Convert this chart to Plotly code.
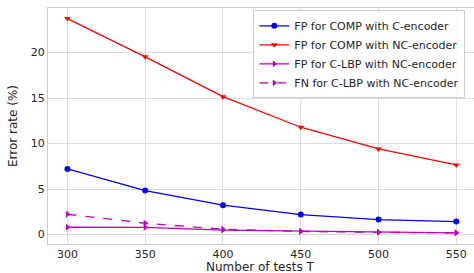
import plotly.graph_objects as go

tests = [300, 350, 400, 450, 500, 550]
fp_comp_c = [7.22, 4.84, 3.23, 2.2, 1.65, 1.43]
fp_comp_nc = [23.74, 19.53, 15.16, 11.8, 9.42, 7.66]
fp_clbp_nc = [0.81, 0.8, 0.5, 0.38, 0.27, 0.19]
fn_clbp_nc = [2.24, 1.25, 0.6, 0.35, 0.25, 0.2]

x_ticks = [300, 350, 400, 450, 500, 550]
y_ticks = [0, 5, 10, 15, 20]

series = [
    ("FP for COMP with C-encoder", fp_comp_c, "#0000ff", "circle", "solid"),
    ("FP for COMP with NC-encoder", fp_comp_nc, "#ff0000", "triangle-down", "solid"),
    ("FP for C-LBP with NC-encoder", fp_clbp_nc, "#bf00bf", "triangle-right", "solid"),
    ("FN for C-LBP with NC-encoder", fn_clbp_nc, "#bf00bf", "triangle-right", "dash"),
]

fig = go.Figure()
for name, vals, col, sym, dash in series:
    fig.add_trace(go.Scatter(
        x=tests, y=vals, name=name, mode="lines+markers",
        line=dict(color=col, width=1.3, dash=dash),
        marker=dict(symbol=sym, size=6, color=col),
    ))

font = "DejaVu Sans"
fig.update_layout(
    width=474, height=273,
    margin=dict(l=48, r=0, t=8, b=29, autoexpand=False),
    paper_bgcolor="white", plot_bgcolor="white",
    font=dict(family=font, size=11, color="#262626"),
    showlegend=True,
    legend=dict(
        x=0.482, y=0.99, xanchor="left", yanchor="top",
        bgcolor="rgba(255,255,255,0.85)", bordercolor="#cccccc", borderwidth=1,
        font=dict(size=11, color="#262626"),
        tracegroupgap=0, itemwidth=30,
    ),
    xaxis=dict(
        range=[287.5, 561.4], tickvals=x_ticks, ticks="", automargin=False,
        showgrid=True, gridcolor="#dcdcdc", gridwidth=1,
        showline=True, linecolor="#cccccc", mirror=True, zeroline=False,
        tickfont=dict(size=11),
    ),
    yaxis=dict(
        range=[-1.03, 24.9], tickvals=y_ticks, ticks="", automargin=False,
        showgrid=True, gridcolor="#dcdcdc", gridwidth=1,
        showline=True, linecolor="#cccccc", mirror=True, zeroline=False,
        tickfont=dict(size=11),
    ),
    annotations=[
        dict(text="Number of tests T", xref="paper", yref="paper",
             x=(260 - 48) / 426, y=-(267 - 244) / 236, xanchor="center", yanchor="middle",
             showarrow=False, font=dict(size=12, color="#262626")),
        dict(text="Error rate (%)", xref="paper", yref="paper",
             x=-(48 - 13) / 426, y=(244 - 126) / 236, xanchor="center", yanchor="middle",
             textangle=-90, showarrow=False, font=dict(size=12, color="#262626")),
    ],
)

fig.write_html(
    "out.html",
    config={"displayModeBar": False},
    post_script="document.body.style.margin='0';document.body.style.overflow='hidden';",
)
